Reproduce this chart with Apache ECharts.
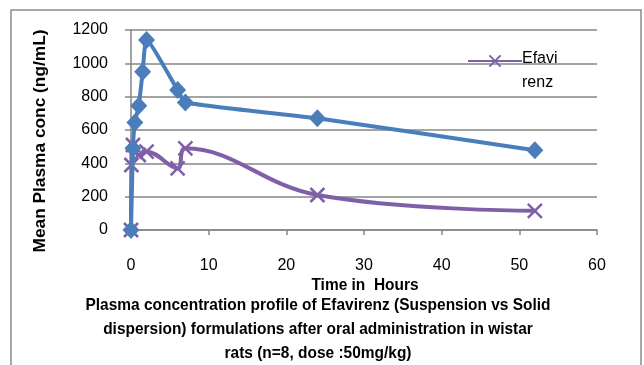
<!DOCTYPE html>
<html>
<head>
<meta charset="utf-8">
<script src="https://cdn.jsdelivr.net/npm/echarts@6/dist/echarts.min.js"></script>
<style>
  html, body { margin: 0; padding: 0; background: #fff; }
  #chart { width: 644px; height: 365px; }
</style>
</head>
<body>
<div id="chart"></div>
<script>
// 数据：时间点（小时）与血药浓度（ng/mL）
const suspensionHours = [0, 0.25, 0.5, 1, 1.5, 2, 6, 7, 24, 52]
const suspensionConc = [0, 490, 645, 745, 950, 1140, 840, 765, 670, 478]

const efavirenzHours = [0, 0.05, 0.25, 1, 2, 6, 7, 24, 52]
const efavirenzConc = [0, 390, 510, 450, 470, 370, 490, 210, 115]

const xTicks = [0, 10, 20, 30, 40, 50, 60]
const yTicks = [0, 200, 400, 600, 800, 1000, 1200]

const titleLines = [
  'Plasma concentration profile of Efavirenz (Suspension vs Solid',
  'dispersion) formulations after oral administration in wistar',
  'rats (n=8, dose :50mg/kg)'
]
const xName = 'Time in  Hours'
const yName = 'Mean Plasma conc (ng/mL)'
const legendLines = ['Efavi', 'renz']

const FONT = '"Liberation Sans", Arial, sans-serif'
const BOLD = 'bold 17px ' + FONT
const BLUE = '#4a7ebb'
const PURPLE = '#7f60a8'
const CROSS = 'path://M0,0L10,10M10,0L0,10'

const zip = (xs, ys) => xs.map((x, i) => [x, ys[i]])

// 用 canvas 量字宽，把粗体字横向压窄，模仿原图的窄体字
const ctx = document.createElement('canvas').getContext('2d')
ctx.font = BOLD
const textWidth = (s) => ctx.measureText(s).width
const squeeze = 465 / textWidth(titleLines[0])
const squeezeY = 223 / textWidth(yName)

function boldText(text, x, y, rotation, scale) {
  return {
    type: 'text',
    x: x,
    y: y,
    rotation: rotation || 0,
    scaleX: scale || squeeze,
    silent: true,
    style: {
      text: text,
      font: BOLD,
      fill: '#000',
      align: 'center',
      verticalAlign: 'middle'
    }
  }
}

const chart = echarts.init(document.getElementById('chart'), null, { renderer: 'canvas' })

const graphics = [{
  type: 'rect',
  shape: { x: 11, y: 10, width: 630, height: 400 },
  style: { fill: null, stroke: '#8c8c8c', lineWidth: 1.5 },
  silent: true
}]
titleLines.forEach((line, i) => {
  graphics.push(boldText(line, 318, 305 + i * 24))
})
graphics.push(boldText(xName, 365, 285))
graphics.push(boldText(yName, 40, 141, Math.PI / 2, squeezeY))
legendLines.forEach((line, i) => {
  graphics.push({
    type: 'text',
    left: 522,
    top: 51 + i * 24,
    silent: true,
    style: { text: line, font: '16px ' + FONT, fill: '#000' }
  })
})

const option = {
  animation: false,
  backgroundColor: '#fff',
  grid: { left: 131, right: 47, top: 30, bottom: 135 },
  legend: {
    data: ['Efavirenz'],
    left: 462,
    top: 49,
    itemWidth: 54,
    itemHeight: 14,
    formatter: () => '',
    textStyle: { fontSize: 1 }
  },
  xAxis: {
    type: 'value',
    min: 0,
    max: 60,
    interval: 10,
    axisLine: { lineStyle: { color: '#868686', width: 1.5 } },
    axisTick: { show: true, length: 5, lineStyle: { color: '#868686', width: 1.5 } },
    axisLabel: {
      fontFamily: FONT, fontSize: 16, color: '#000', margin: 28,
      formatter: (v) => xTicks.includes(v) ? String(v) : ''
    },
    splitLine: { show: false }
  },
  yAxis: {
    type: 'value',
    min: 0,
    max: 1200,
    interval: 200,
    axisLine: { show: true, lineStyle: { color: '#868686', width: 1.5 } },
    axisTick: { show: true, length: 6, lineStyle: { color: '#868686', width: 1.5 } },
    axisLabel: {
      fontFamily: FONT, fontSize: 16, color: '#000', margin: 23,
      formatter: (v) => yTicks.includes(v) ? String(v) : ''
    },
    splitLine: { lineStyle: { color: '#868686', width: 1.5 } }
  },
  graphic: graphics,
  series: [
    {
      name: 'Efavirenz',
      type: 'line',
      data: zip(efavirenzHours, efavirenzConc),
      smooth: 0.4,
      symbol: CROSS,
      symbolSize: 14,
      lineStyle: { color: PURPLE, width: 4 },
      itemStyle: { color: PURPLE, borderColor: PURPLE, borderWidth: 2.5 },
      z: 2
    },
    {
      name: 'Suspension',
      type: 'line',
      data: zip(suspensionHours, suspensionConc),
      smooth: 0.15,
      symbol: 'diamond',
      symbolSize: [17, 18],
      lineStyle: { color: BLUE, width: 4 },
      itemStyle: { color: BLUE },
      z: 3
    }
  ]
}

chart.setOption(option)
</script>
</body>
</html>
